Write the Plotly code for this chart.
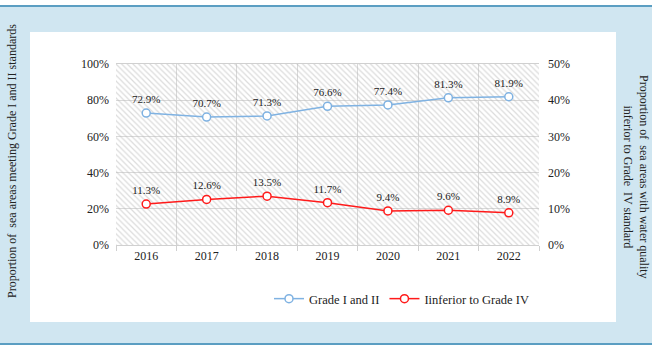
import plotly.graph_objects as go

years = ["2016", "2017", "2018", "2019", "2020", "2021", "2022"]
grade_1_2 = [72.9, 70.7, 71.3, 76.6, 77.4, 81.3, 81.9]
inferior_4 = [11.3, 12.6, 13.5, 11.7, 9.4, 9.6, 8.9]
left_ticks = [0, 20, 40, 60, 80, 100]
right_ticks = [0, 10, 20, 30, 40, 50]

W, H = 654, 351
L, R, T, B = 116, 539, 64, 245
FONT = "Liberation Serif, Times New Roman, serif"
BLUE = "#7fb2e2"
RED = "#ff1a1a"


def px(x):
    return (x - L) / (R - L)


def py(y):
    return (B - y) / (B - T)


fig = go.Figure()

# hatched plot background
fig.add_trace(go.Bar(
    x=years, y=[left_ticks[-1]] * len(years), width=1,
    marker=dict(color="rgba(0,0,0,0)", line=dict(width=0),
                pattern=dict(shape="\\", fgcolor="#b8b8b8", size=4, solidity=0.3, fillmode="overlay")),
    hoverinfo="skip", showlegend=False, yaxis="y",
))

fig.add_trace(go.Scatter(
    x=years, y=grade_1_2, name="Grade I and II", mode="lines+markers",
    line=dict(color=BLUE, width=1.5),
    marker=dict(symbol="circle", size=8, color="white", line=dict(color=BLUE, width=1.5)),
    yaxis="y",
))
fig.add_trace(go.Scatter(
    x=years, y=inferior_4, name="Iinferior to Grade IV", mode="lines+markers",
    line=dict(color=RED, width=1.5),
    marker=dict(symbol="circle", size=8, color="white", line=dict(color=RED, width=1.5)),
    yaxis="y2",
))
fig.add_trace(go.Scatter(
    x=years, y=grade_1_2, mode="markers+text", text=[f"{v:.1f}%" for v in grade_1_2],
    marker=dict(size=10, opacity=0),
    textposition="top center", textfont=dict(family=FONT, size=11, color="#222"),
    showlegend=False, hoverinfo="skip", yaxis="y",
))
fig.add_trace(go.Scatter(
    x=years, y=inferior_4, mode="markers+text", text=[f"{v:.1f}%" for v in inferior_4],
    marker=dict(size=10, opacity=0),
    textposition="top center", textfont=dict(family=FONT, size=11, color="#222"),
    showlegend=False, hoverinfo="skip", yaxis="y2",
))

shapes = [
    dict(type="rect", xref="paper", yref="paper", x0=px(0), x1=px(652), y0=py(6), y1=py(344),
         fillcolor="#d0e6f1", line=dict(width=0), layer="below"),
    dict(type="line", xref="paper", yref="paper", x0=px(0), x1=px(652), y0=py(6), y1=py(6),
         line=dict(color="#5b9ec2", width=2), layer="below"),
    dict(type="line", xref="paper", yref="paper", x0=px(0), x1=px(652), y0=py(344), y1=py(344),
         line=dict(color="#5b9ec2", width=2), layer="below"),
    dict(type="rect", xref="paper", yref="paper", x0=px(30), x1=px(616), y0=py(32), y1=py(322),
         fillcolor="white", line=dict(width=0), layer="below"),
]

annotations = [
    dict(text="Proportion of  sea areas meeting Grade I and II standards", xref="paper", yref="paper",
         x=px(12), y=py(161), textangle=-90, showarrow=False, xanchor="center", yanchor="middle",
         font=dict(family=FONT, size=12, color="#222")),
    dict(text="Proportion of  sea areas with water quality<br>inferior to Grade  IV standard",
         xref="paper", yref="paper", x=px(636), y=py(177), textangle=90, showarrow=False,
         xanchor="center", yanchor="middle", font=dict(family=FONT, size=12, color="#222")),
]

fig.update_layout(
    width=W, height=H,
    margin=dict(l=L, r=W - R, t=T, b=H - B),
    paper_bgcolor="white", plot_bgcolor="rgba(0,0,0,0)",
    font=dict(family=FONT, size=12, color="#222"),
    bargap=0,
    shapes=shapes, annotations=annotations,
    showlegend=True,
    legend=dict(orientation="h", x=px(269), y=py(299), xanchor="left", yanchor="middle",
                font=dict(family=FONT, size=12.5, color="#222"), bgcolor="rgba(0,0,0,0)",
                itemwidth=30, tracegroupgap=0),
    xaxis=dict(type="category", range=[-0.5, len(years) - 0.5], tickson="boundaries",
               ticks="outside", ticklen=5, tickcolor="#d0d0d0", showgrid=True, gridcolor="#d9d9d9",
               showline=True, linecolor="#d0d0d0", mirror=True, zeroline=False,
               tickfont=dict(family=FONT, size=12, color="#222")),
    yaxis=dict(range=[0, 100], tickmode="array", tickvals=left_ticks,
               ticktext=[f"{v}%" for v in left_ticks], showgrid=True,
               gridcolor="#d9d9d9", zeroline=False, showline=False, ticklabelstandoff=6,
               tickfont=dict(family=FONT, size=12, color="#222")),
    yaxis2=dict(range=[0, 50], tickmode="array", tickvals=right_ticks,
                ticktext=[f"{v}%" for v in right_ticks], overlaying="y", side="right",
                showgrid=False, zeroline=False, showline=False, ticklabelstandoff=8,
                tickfont=dict(family=FONT, size=12, color="#222")),
)

fig.write_html("out.html")
